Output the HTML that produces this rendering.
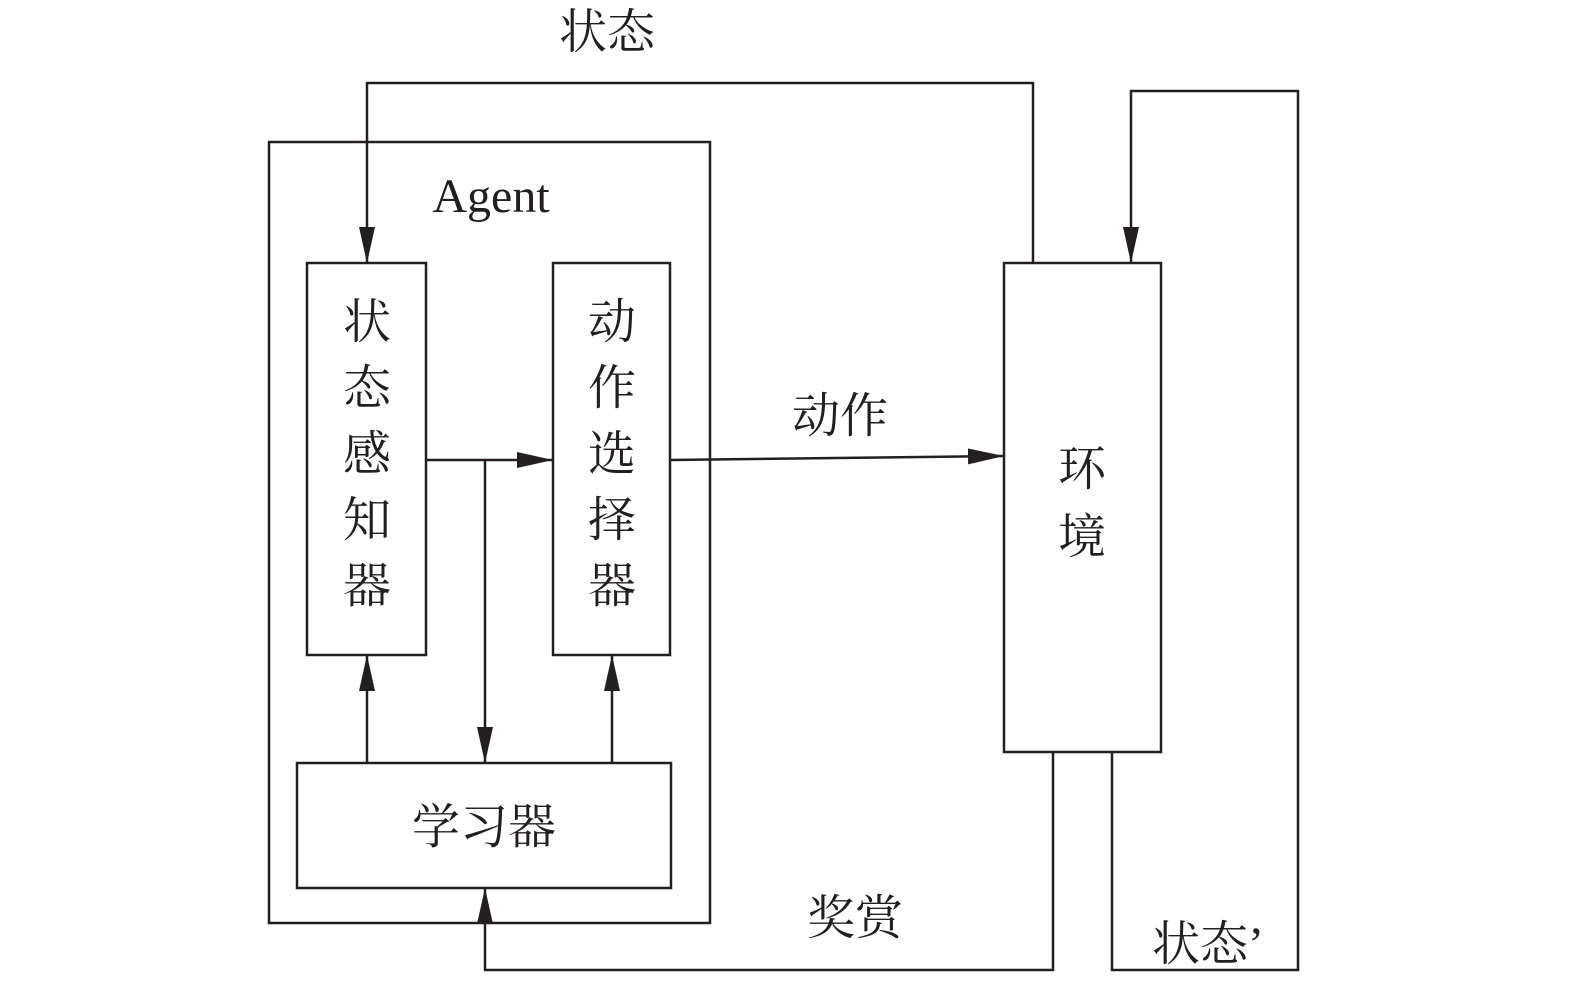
<!DOCTYPE html>
<html><head><meta charset="utf-8"><style>
html,body{margin:0;padding:0;background:#fff;}
svg text{font-family:"Liberation Serif","Noto Serif CJK SC",serif;fill:#231f20;}
</style></head><body>
<svg width="1575" height="984" viewBox="0 0 1575 984" xmlns="http://www.w3.org/2000/svg">
<defs><marker id="a" markerWidth="10" markerHeight="8" refX="10" refY="4" orient="auto" markerUnits="userSpaceOnUse" viewBox="0 0 10 8">
</marker>
<marker id="ar" viewBox="0 0 36 20" refX="36" refY="10" markerWidth="36" markerHeight="20" markerUnits="userSpaceOnUse" orient="auto"><path d="M0,2 L36,10 L0,18 Z" fill="#231f20"/></marker>
</defs>
<g fill="none" stroke="#231f20" stroke-width="2.5">
<rect x="269" y="142" width="441" height="781"/>
<rect x="307" y="263" width="119" height="392"/>
<rect x="553" y="263" width="117" height="392"/>
<rect x="297" y="763" width="374" height="125"/>
<rect x="1004" y="263" width="157" height="489"/>
<polyline points="1033,263 1033,83 367,83 367,263" marker-end="url(#ar)"/>
<polyline points="1112,752 1112,970 1298,970 1298,91 1131,91 1131,263" marker-end="url(#ar)"/>
<polyline points="1053,752 1053,970 485,970 485,888" marker-end="url(#ar)"/>
<line x1="426" y1="460" x2="553" y2="460" marker-end="url(#ar)"/>
<line x1="485" y1="460" x2="485" y2="763" marker-end="url(#ar)"/>
<line x1="367" y1="763" x2="367" y2="655" marker-end="url(#ar)"/>
<line x1="612" y1="763" x2="612" y2="655" marker-end="url(#ar)"/>
<line x1="670" y1="460" x2="1004" y2="456" marker-end="url(#ar)"/>
</g>
<g font-size="48" text-anchor="middle">
<text x="607" y="48">状态</text>
<text x="491" y="212">Agent</text>
<text x="367" y="338">状</text><text x="367" y="404">态</text><text x="367" y="470">感</text><text x="367" y="536">知</text><text x="367" y="602">器</text>
<text x="612" y="338">动</text><text x="612" y="404">作</text><text x="612" y="470">选</text><text x="612" y="536">择</text><text x="612" y="602">器</text>
<text x="840" y="432">动作</text>
<text x="1082" y="485">环</text><text x="1082" y="553">境</text>
<text x="484" y="843">学习器</text>
<text x="855" y="934">奖赏</text>
<text x="1208" y="960">状态’</text>
</g>
</svg>
</body></html>
